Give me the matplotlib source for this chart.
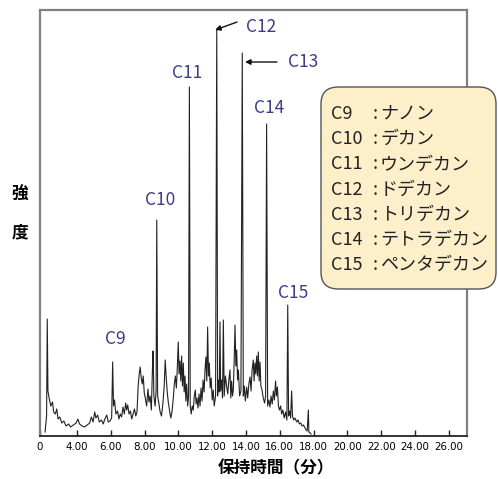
import matplotlib
matplotlib.use('Agg')
import matplotlib.pyplot as plt
from matplotlib.patches import FancyBboxPatch

# retention time (min) and detector intensity (arbitrary units)
times = [2.11, 2.20, 2.24, 2.28, 2.35, 2.45, 2.55, 2.62, 2.72, 2.80, 2.88, 2.98,
         3.10, 3.22, 3.35, 3.50, 3.62, 3.78, 3.95, 4.05, 4.15, 4.30, 4.45, 4.60,
         4.75, 4.85, 4.95, 5.05, 5.12, 5.22, 5.32, 5.45, 5.55, 5.65, 5.76, 5.85,
         5.95, 6.05, 6.11, 6.16, 6.22, 6.30, 6.40, 6.48, 6.56, 6.64, 6.72, 6.80,
         6.88, 6.94, 7.00, 7.08, 7.16, 7.24, 7.32, 7.40, 7.48, 7.55, 7.62, 7.68,
         7.74, 7.80, 7.86, 7.92, 7.98, 8.04, 8.12, 8.20, 8.26, 8.33, 8.40, 8.46,
         8.50, 8.55, 8.62, 8.68, 8.72, 8.77, 8.84, 8.92, 9.00, 9.08, 9.16, 9.22,
         9.28, 9.34, 9.40, 9.48, 9.55, 9.62, 9.70, 9.76, 9.82, 9.88, 9.94, 9.99,
         10.04, 10.09, 10.14, 10.19, 10.24, 10.29, 10.34, 10.39, 10.44, 10.49,
         10.55, 10.60, 10.65, 10.70, 10.76, 10.82, 10.88, 10.94, 11.00, 11.05,
         11.10, 11.16, 11.22, 11.28, 11.34, 11.40, 11.46, 11.52, 11.58, 11.63,
         11.68, 11.73, 11.78, 11.83, 11.88, 11.94, 12.00, 12.06, 12.12, 12.20,
         12.27, 12.32, 12.37, 12.42, 12.46, 12.50, 12.56, 12.61, 12.66, 12.71,
         12.78, 12.86, 12.92, 12.98, 13.05, 13.10, 13.15, 13.20, 13.25, 13.30,
         13.35, 13.40, 13.45, 13.50, 13.55, 13.62, 13.70, 13.78, 13.84, 13.90,
         13.96, 14.04, 14.10, 14.17, 14.24, 14.30, 14.36, 14.43, 14.48, 14.53,
         14.58, 14.63, 14.68, 14.73, 14.78, 14.83, 14.88, 14.95, 15.02, 15.10,
         15.16, 15.22, 15.28, 15.35, 15.42, 15.48, 15.55, 15.62, 15.68, 15.75,
         15.80, 15.86, 15.92, 15.98, 16.05, 16.11, 16.18, 16.26, 16.34, 16.42,
         16.47, 16.52, 16.58, 16.64, 16.70, 16.75, 16.82, 16.90, 17.00, 17.08,
         17.16, 17.24, 17.32, 17.40, 17.49, 17.56, 17.62, 17.69, 17.72, 17.80,
         17.85]
signal = [4, 20, 117, 45, 38, 30, 34, 24, 22, 27, 17, 19,
          13, 15, 10, 12, 9, 11, 13, 17, 12, 10, 9, 11,
          13, 19, 14, 24, 18, 21, 14, 16, 12, 17, 21, 14,
          15, 18, 74, 30, 36, 22, 25, 17, 22, 19, 29, 22,
          33, 26, 31, 22, 25, 17, 22, 27, 20, 24, 50, 62,
          69, 58, 52, 60, 43, 38, 30, 47, 34, 40, 26, 65,
          85, 40, 30, 45, 216, 40, 33, 24, 20, 32, 50, 76,
          58, 44, 34, 25, 18, 24, 38, 52, 60, 48, 70, 94,
          62, 75, 55, 80, 50, 73, 44, 60, 35, 52,
          30, 40, 349, 30, 22, 30, 26, 40, 46, 32,
          38, 28, 42, 30, 48, 35, 56, 44, 68, 79,
          55, 109, 60, 73, 48, 58, 36, 46, 30, 40,
          407, 40, 56, 44, 114, 45, 56, 38, 116, 40,
          60, 49, 42, 55, 66, 38, 55, 40, 46, 75,
          111, 70, 86, 56, 66, 40, 45, 383, 40, 50,
          35, 49, 38, 52, 59, 45, 66, 76, 55, 73,
          62, 80, 60, 84, 55, 74, 50, 46, 38, 33,
          40, 312, 30, 36, 29, 40, 32, 45, 36, 55,
          40, 49, 30, 26, 30, 22, 26, 18, 24, 16,
          131, 20, 25, 18, 45, 20, 16, 18, 14, 16,
          12, 13, 10, 11, 8, 6, 5, 26, 4, 3,
          2]

peak_names = ['C9', 'C10', 'C11', 'C12', 'C13', 'C14', 'C15']
compounds = ['ナノン', 'デカン', 'ウンデカン', 'ドデカン', 'トリデカン', 'テトラデカン', 'ペンタデカン']
# label anchor (time, intensity)
label_t = [6.25, 8.91, 10.51, 14.89, 17.37, 15.36, 16.78]
label_h = [97, 236, 363, 409, 374, 328, 143]

tick_vals = [4, 6, 8, 10, 12, 14, 16, 18, 20, 22, 24, 26]
tick_labels = ['%.2f' % v for v in tick_vals]

W, H = 498, 479
fig = plt.figure(figsize=(W / 100, H / 100), dpi=100)
ax = fig.add_axes([40 / W, 1 - 436 / H, 427 / W, 426 / H])

ax.plot(times, signal, color='#222222', lw=0.8)
xmin = 4 + (40 - 77) / 16.9
xmax = 4 + (467 - 77) / 16.9
ax.set_xlim(xmin, xmax)
ax.set_ylim(0, 426)

ax.set_xticks([xmin] + tick_vals)
ax.set_xticklabels(['0'] + tick_labels, family='DejaVu Sans',
                   stretch='condensed', fontsize=8.2)
ax.tick_params(axis='x', direction='in', length=4, width=1, pad=4, color='#222222')
ax.set_yticks([])
for side in ['top', 'left', 'right']:
    ax.spines[side].set_color('#808080')
    ax.spines[side].set_linewidth(1.6)
ax.spines['bottom'].set_color('#222222')
ax.spines['bottom'].set_linewidth(1.3)

jp = ['Noto Sans CJK JP', 'DejaVu Sans']
lab_color = '#3d3d85'
for name, t, h in zip(peak_names, label_t, label_h):
    ax.text(t, h, name, color=lab_color, fontsize=12.5, family=jp,
            ha='center', va='center')

ax.annotate('', xy=(12.17, 406), xytext=(13.47, 414),
            arrowprops=dict(arrowstyle='-|>', color='#111111', lw=1,
                            mutation_scale=8, shrinkA=0, shrinkB=0))
ax.annotate('', xy=(13.94, 374), xytext=(15.83, 374),
            arrowprops=dict(arrowstyle='-|>', color='#111111', lw=1,
                            mutation_scale=8, shrinkA=0, shrinkB=0))

fig.text(276 / W, 1 - 468 / H, '保持時間（分）', family=jp, fontsize=12,
         fontweight='bold', ha='center', va='center')
fig.text(20 / W, 1 - 195 / H, '強', family=jp, fontsize=12, fontweight='bold',
         ha='center', va='center')
fig.text(20 / W, 1 - 232 / H, '度', family=jp, fontsize=12, fontweight='bold',
         ha='center', va='center')

# legend box
box = FancyBboxPatch((321 / W + 0.01, 1 - 289 / H + 0.01),
                     (496 - 321) / W - 0.02, (289 - 87) / H - 0.02,
                     boxstyle='round,pad=0.01,rounding_size=0.035',
                     transform=fig.transFigure, facecolor='#fcefc9',
                     edgecolor='#555555', lw=1, zorder=5)
fig.add_artist(box)
for i, (name, comp) in enumerate(zip(peak_names, compounds)):
    y = 1 - (114 + i * 25.2) / H
    fig.text(331 / W, y, name, family=jp, fontsize=13, ha='left', va='center',
             color='#222222', zorder=6)
    fig.text(375 / W, y, ':', family=jp, fontsize=13, ha='center', va='center',
             color='#222222', zorder=6)
    fig.text(380 / W, y, comp, family=jp, fontsize=13, ha='left', va='center',
             color='#222222', zorder=6)

fig.savefig('out.png', dpi=100)
